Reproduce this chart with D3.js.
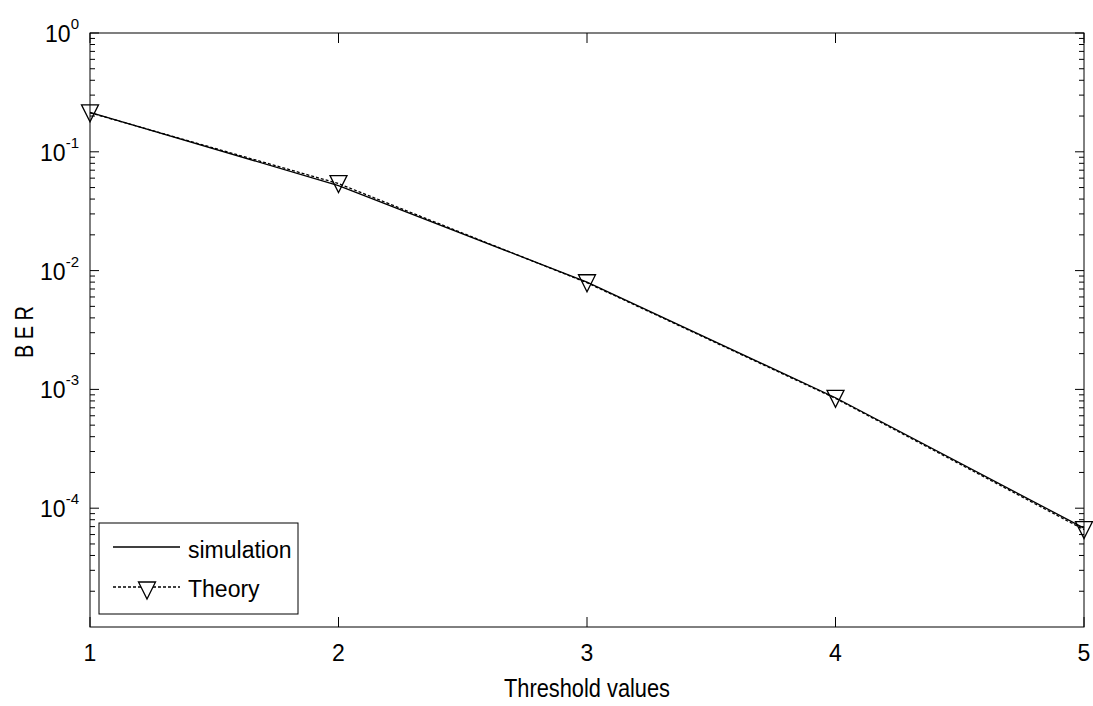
<!DOCTYPE html>
<html>
<head>
<meta charset="utf-8">
<script src="https://cdn.jsdelivr.net/npm/d3@7"></script>
<style>
  body { margin: 0; background: #fff; }
  text { font-family: "Liberation Sans", Arial, sans-serif; fill: #000; }
</style>
</head>
<body>
<svg id="chart"></svg>
<script>
// data
const thresholds = [1, 2, 3, 4, 5];
const simulation = [0.215, 0.052, 0.0080, 8.5e-4, 6.8e-5];
const theory = [0.213, 0.054, 0.0079, 8.4e-4, 6.6e-5];
const xTicks = [1, 2, 3, 4, 5];
const yTicks = [1, 1e-1, 1e-2, 1e-3, 1e-4];
const yExp = ["0", "-1", "-2", "-3", "-4"];
const legendNames = ["simulation", "Theory"];

const width = 1093, height = 706;
const margin = {left: 90, right: 9, top: 33, bottom: 79};

const svg = d3.select("#chart")
              .attr("width", width)
              .attr("height", height);

const x = d3.scaleLinear([1, 5], [margin.left, width - margin.right]);
const y = d3.scaleLog([1e-5, 1], [height - margin.bottom, margin.top]);

const x0 = x.range()[0], x1 = x.range()[1];
const y0 = y.range()[0], y1 = y.range()[1];

// log 스케일 보조 눈금
const minor = [];
for (let e = -5; e < 0; e++) {
	for (let m = 2; m <= 9; m++) minor.push(m * Math.pow(10, e));
}

const frame = svg.append("g").attr("stroke", "#000").attr("stroke-width", 1).attr("fill", "none");
frame.append("rect")
     .attr("x", x0).attr("y", y1)
     .attr("width", x1 - x0).attr("height", y0 - y1);

// y 눈금 (좌/우, 안쪽 방향)
frame.selectAll("path.ymaj")
     .data(yTicks)
     .join("path")
     .attr("d", d => `M${x0},${y(d)}h9M${x1},${y(d)}h-9`);
frame.selectAll("path.ymin")
     .data(minor)
     .join("path")
     .attr("d", d => `M${x0},${y(d)}h5M${x1},${y(d)}h-5`);

// x 눈금 (아래/위)
frame.selectAll("path.xt")
     .data(xTicks)
     .join("path")
     .attr("d", d => `M${x(d)},${y0}v-10M${x(d)},${y1}v10`);

// x tick labels
svg.append("g")
   .selectAll("text")
   .data(xTicks)
   .join("text")
   .attr("x", d => x(d))
   .attr("y", y0 + 34)
   .attr("text-anchor", "middle")
   .attr("font-size", 23)
   .text(d => d);

// y tick labels 10^n
const yl = svg.append("g")
              .selectAll("text")
              .data(yTicks)
              .join("text")
              .attr("x", x0 - 11)
              .attr("y", d => y(d) + 9)
              .attr("text-anchor", "end")
              .attr("font-size", 23);
yl.append("tspan").text("10");
yl.append("tspan")
  .attr("dy", -13)
  .attr("font-size", 15)
  .text((d, i) => yExp[i]);

// axis titles
svg.append("text")
   .attr("x", (x0 + x1) / 2)
   .attr("y", y0 + 70)
   .attr("text-anchor", "middle")
   .attr("font-size", 25)
   .attr("textLength", 166)
   .attr("lengthAdjust", "spacingAndGlyphs")
   .text("Threshold values");

svg.append("text")
   .attr("transform", `translate(33, 332) rotate(-90)`)
   .attr("text-anchor", "middle")
   .attr("font-size", 26)
   .attr("textLength", 52)
   .attr("lengthAdjust", "spacingAndGlyphs")
   .text("B E R");

const line = d3.line()
               .x((d, i) => x(thresholds[i]))
               .y(d => y(d));

svg.append("path")
   .datum(theory)
   .attr("fill", "none")
   .attr("stroke", "#000")
   .attr("stroke-width", 1.3)
   .attr("stroke-dasharray", "3,2")
   .attr("d", line);

svg.append("path")
   .datum(simulation)
   .attr("fill", "none")
   .attr("stroke", "#000")
   .attr("stroke-width", 1.3)
   .attr("d", line);

// 아래로 향한 삼각형 마커
const tri = (cx, cy) => `M${cx - 8.5},${cy - 8}L${cx + 8.5},${cy - 8}L${cx},${cy + 9}Z`;

svg.append("g")
   .selectAll("path")
   .data(theory)
   .join("path")
   .attr("d", (d, i) => tri(x(thresholds[i]), y(d)))
   .attr("fill", "none")
   .attr("stroke", "#000")
   .attr("stroke-width", 1.3);

// legend
const lg = svg.append("g").attr("transform", "translate(99, 523)");
lg.append("rect")
  .attr("width", 199).attr("height", 91)
  .attr("fill", "#fff").attr("stroke", "#000");
lg.append("path").attr("d", "M14,24H81").attr("stroke", "#000").attr("stroke-width", 1.3);
lg.append("path").attr("d", "M14,64H81").attr("stroke", "#000").attr("stroke-width", 1.3).attr("stroke-dasharray", "3,2");
lg.append("path").attr("d", tri(48, 67)).attr("fill", "#fff").attr("stroke", "#000").attr("stroke-width", 1.3);
lg.selectAll("text.lab")
  .data(legendNames)
  .join("text")
  .attr("x", 89)
  .attr("y", (d, i) => 35 + i * 39)
  .attr("font-size", 23)
  .text(d => d);
</script>
</body>
</html>
